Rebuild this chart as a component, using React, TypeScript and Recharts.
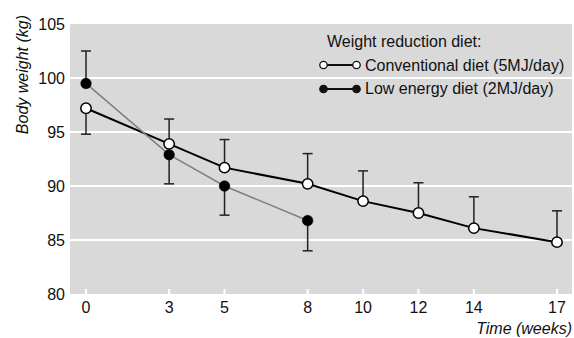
import React from 'react';
import { LineChart, Line, XAxis, YAxis, CartesianGrid, ErrorBar, Label } from 'recharts';

// weeks of follow-up
const weeks = [0, 3, 5, 8, 10, 12, 14, 17];
const lowWeeks = [0, 3, 5, 8];

// conventional diet (5MJ/day), open circles
const conventional = [97.2, 93.9, 91.7, 90.2, 88.6, 87.5, 86.1, 84.8];
const conventionalErrDown = [2.4, 0, 0, 0, 0, 0, 0, 0];
const conventionalErrUp = [0, 2.3, 2.6, 2.8, 2.8, 2.8, 2.9, 2.9];

// low energy diet (2MJ/day), filled circles
const lowEnergy = [99.5, 92.9, 90.0, 86.8];
const lowEnergyErrDown = [0, 2.7, 2.7, 2.8];
const lowEnergyErrUp = [3.0, 0, 0, 0];

const yTicks = [80, 85, 90, 95, 100, 105];
const gridValues = [85, 90, 95, 100];

const convData = weeks.map((w, i) => ({
  week: w,
  conv: conventional[i],
  convErr: [conventionalErrDown[i], conventionalErrUp[i]],
}));

const lowData = lowWeeks.map((w, i) => ({
  week: w,
  low: lowEnergy[i],
  lowErr: [lowEnergyErrDown[i], lowEnergyErrUp[i]],
}));

const FONT = "'Liberation Sans', Arial, sans-serif";
const TEXT = '#111';

const XTick = (props: any) => {
  const { x, y, payload } = props;
  return (
    <g>
      <line x1={x} x2={x} y1={y - 13} y2={y - 8} stroke="#fff" strokeWidth={2} />
      <text x={x} y={y} dy="0.71em" textAnchor="middle" fill={TEXT} fontSize={16} fontFamily={FONT}>
        {payload.value}
      </text>
    </g>
  );
};

function LegendSymbol({ filled }: { filled: boolean }) {
  return (
    <svg width={44} height={12} style={{ display: 'block' }}>
      <line x1={5.5} x2={38.5} y1={6} y2={6} stroke="#111" strokeWidth={2} />
      <circle cx={5.5} cy={6} r={3.7} fill={filled ? '#111' : '#fff'} stroke="#111" strokeWidth={1.3} />
      <circle cx={38.5} cy={6} r={3.7} fill={filled ? '#111' : '#fff'} stroke="#111" strokeWidth={1.3} />
    </svg>
  );
}

export default function App() {
  const rowStyle: React.CSSProperties = {
    display: 'flex',
    alignItems: 'center',
    height: 23.5,
  };
  return (
    <div style={{ position: 'relative', width: 574, height: 338, fontFamily: FONT }}>
      <style>{'body{margin:0}'}</style>
      <LineChart width={574} height={338} margin={{ top: 24, right: 2, bottom: 14, left: 30 }}>
        <CartesianGrid
          horizontal
          vertical={false}
          fill="#d9d9d9"
          stroke="#fff"
          strokeWidth={2}
          horizontalValues={gridValues}
        />
        <XAxis
          type="number"
          dataKey="week"
          domain={[0, 17]}
          ticks={weeks}
          padding={{ left: 16, right: 15 }}
          axisLine={false}
          tickLine={false}
          height={30}
          tick={<XTick />}
          interval={0}
        >
          <Label
            content={() => (
              <text x={572} y={334} textAnchor="end" fontStyle="italic" fontSize={16} fill={TEXT} fontFamily={FONT}>
                Time (weeks)
              </text>
            )}
          />
        </XAxis>
        <YAxis
          type="number"
          domain={[80, 105]}
          ticks={yTicks}
          width={40}
          axisLine={false}
          tickLine={false}
          tickSize={3}
          tickMargin={2}
          tick={{ fill: TEXT, fontSize: 16, fontFamily: FONT }}
          interval={0}
        >
          <Label
            content={(p: any) => (
              <text
                x={0}
                y={0}
                transform={`translate(28, ${(p.viewBox?.y ?? 24) - 9}) rotate(-90)`}
                textAnchor="end"
                fontStyle="italic"
                fontSize={16}
                fill={TEXT}
                fontFamily={FONT}
              >
                Body weight (kg)
              </text>
            )}
          />
        </YAxis>
        <Line
          data={convData}
          dataKey="conv"
          stroke="#000"
          strokeWidth={2}
          dot={{ r: 5.2, fill: '#fff', stroke: '#000', strokeWidth: 1.5 }}
          isAnimationActive={false}
        >
          <ErrorBar dataKey="convErr" width={5} stroke="#222" strokeWidth={1.5} direction="y" />
        </Line>
        <Line
          data={lowData}
          dataKey="low"
          stroke="#808080"
          strokeWidth={1.6}
          dot={{ r: 5.3, fill: '#000', stroke: '#000', strokeWidth: 0.5 }}
          isAnimationActive={false}
        >
          <ErrorBar dataKey="lowErr" width={5} stroke="#222" strokeWidth={1.5} direction="y" />
        </Line>
      </LineChart>
      <div
        style={{
          position: 'absolute',
          left: 318,
          top: 30,
          fontSize: 16,
          color: TEXT,
          lineHeight: '23.5px',
        }}
      >
        <div style={{ ...rowStyle, paddingLeft: 9 }}>Weight reduction diet:</div>
        <div style={rowStyle}>
          <LegendSymbol filled={false} />
          <span style={{ marginLeft: 3 }}>Conventional diet (5MJ/day)</span>
        </div>
        <div style={rowStyle}>
          <LegendSymbol filled />
          <span style={{ marginLeft: 3 }}>Low energy diet (2MJ/day)</span>
        </div>
      </div>
    </div>
  );
}
